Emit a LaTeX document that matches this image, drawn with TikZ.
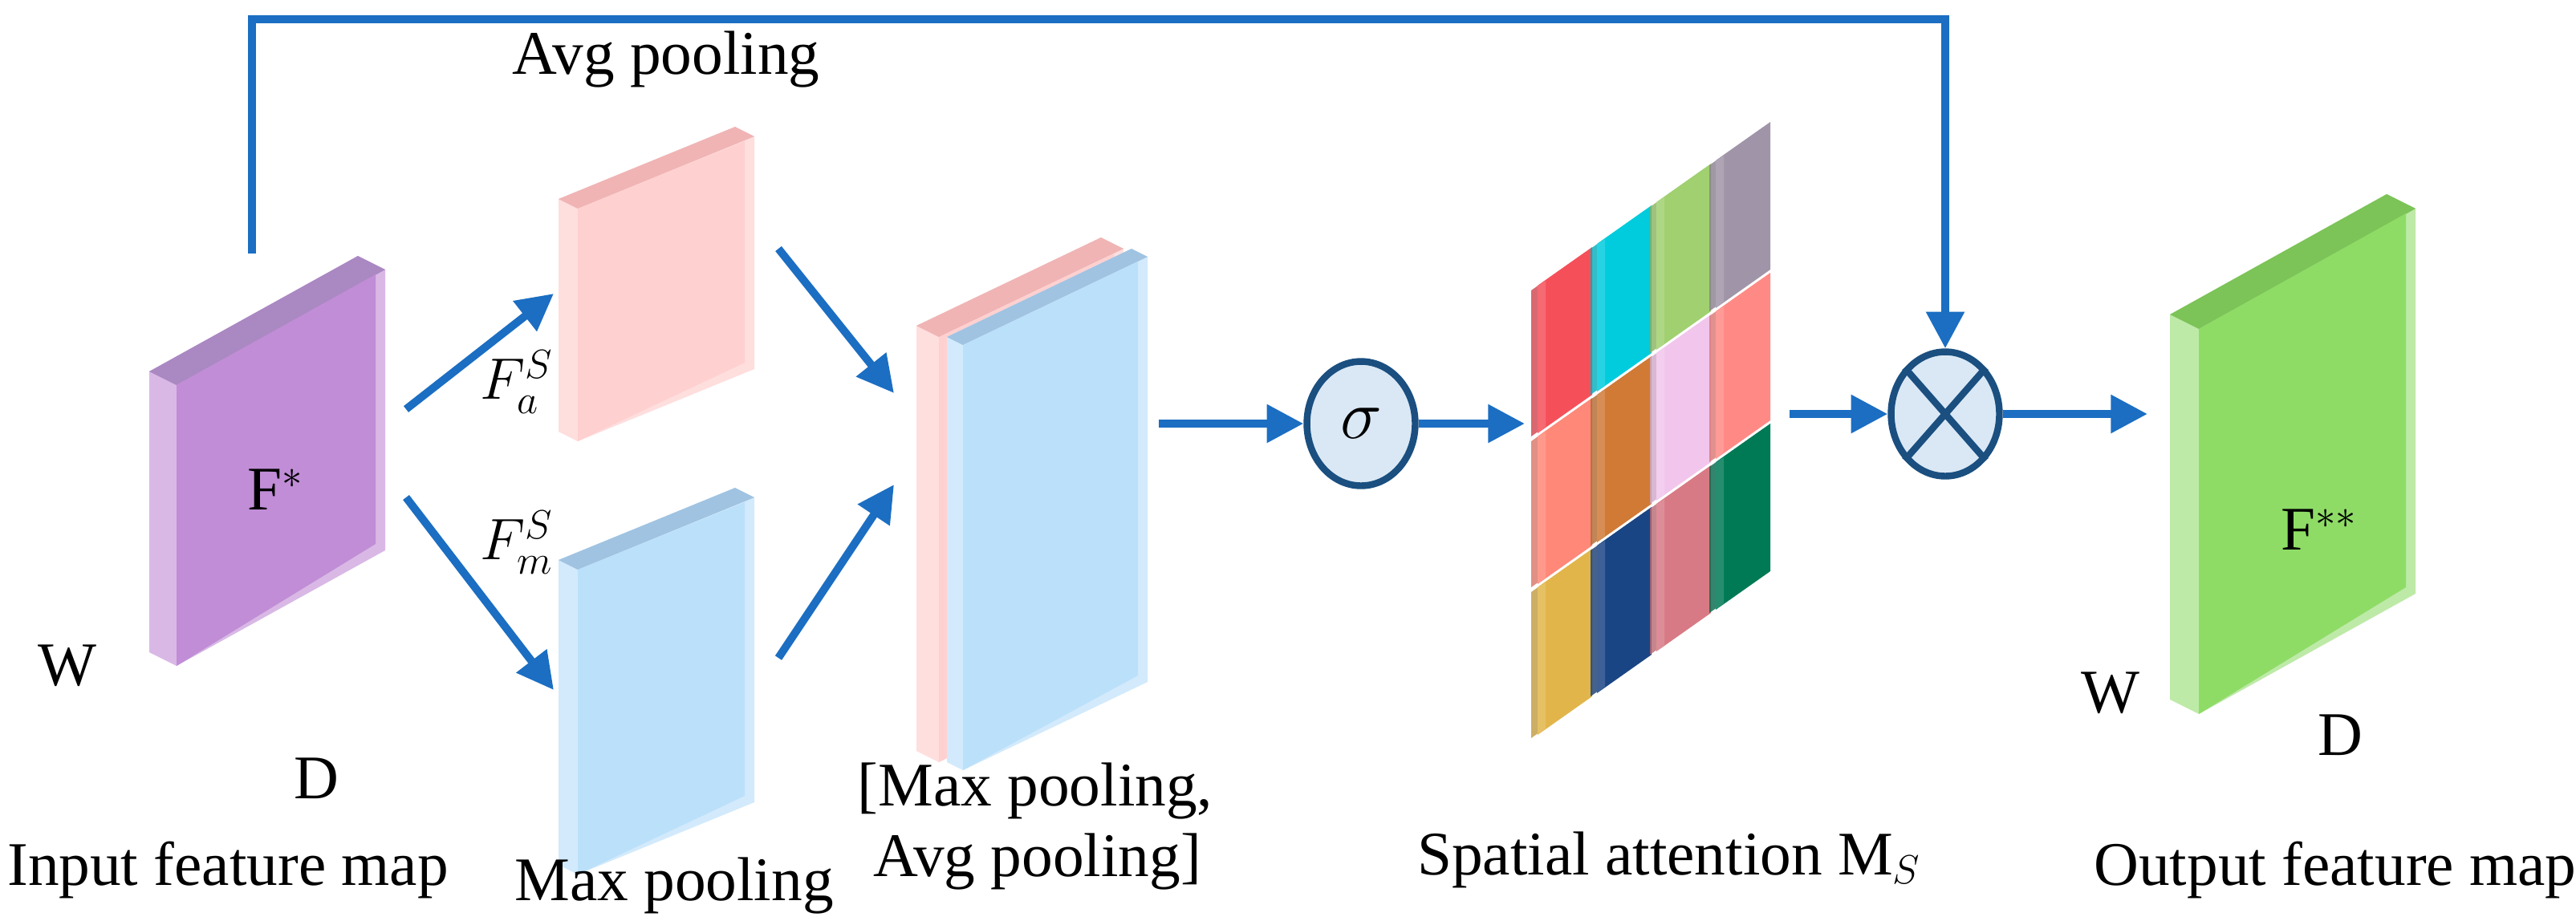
\documentclass[tikz,border=0pt]{standalone}
\usepackage{fontspec}
\setmainfont{Liberation Serif}
\usetikzlibrary{arrows.meta,shapes.geometric}
\definecolor{arr}{HTML}{1B6EC2}
\definecolor{opd}{HTML}{1A4F80}
\definecolor{opf}{HTML}{DAE8F5}
\definecolor{pF}{HTML}{C08DD6}\definecolor{pL}{HTML}{D9B8E6}\definecolor{pT}{HTML}{AA88C2}
\definecolor{rF}{HTML}{FFD0D0}\definecolor{rL}{HTML}{FFDEDE}\definecolor{rT}{HTML}{F0B4B4}
\definecolor{bF}{HTML}{BBE0FA}\definecolor{bL}{HTML}{D2EAFC}\definecolor{bT}{HTML}{A0C3E1}
\definecolor{gF}{HTML}{8EDC66}\definecolor{gL}{HTML}{BEEAA8}\definecolor{gT}{HTML}{7CC358}
\definecolor{t1}{HTML}{F5505A}\definecolor{t2}{HTML}{00CCDD}\definecolor{t3}{HTML}{A0D070}\definecolor{t4}{HTML}{A095A8}
\definecolor{t5}{HTML}{FF8878}\definecolor{t6}{HTML}{D07A35}\definecolor{t7}{HTML}{F2C6EC}\definecolor{t8}{HTML}{FF8A85}
\definecolor{t9}{HTML}{E2B54A}\definecolor{t10}{HTML}{1A4585}\definecolor{t11}{HTML}{D87A85}\definecolor{t12}{HTML}{007A55}
\tikzset{
  flow/.style={draw=arr,line width=2.8pt,-{Triangle[length=13pt,width=13pt]}},
  lbl/.style={font=\fontsize{22}{25}\selectfont,inner sep=0pt},
  op/.style={draw=opd,fill=opf,line width=2.4pt,ellipse,minimum width=1.35cm,minimum height=1.55cm,inner sep=0pt},
}
% slab: x1 x2 ytop h rise depth front light top
\newcommand\myslab[9]{%
  \fill[#8] (#1-#6,#3-#6*0.5) -- (#2-#6,#3-#5-#6*0.5) -- (#2,#3-#5) -- (#2,#3-#5+#4) -- (#1,#3+#4) -- (#1-#6,#3+#4-#6*0.5) -- cycle;
  \fill[#9] (#1-#6,#3-#6*0.5) -- (#2-#6,#3-#5-#6*0.5) -- (#2,#3-#5) -- (#1,#3) -- cycle;
  \fill[#7] (#1,#3) -- (#2-6,#3-#5+3) -- (#2-6,#3-#5+#4-4) -- (#1,#3+#4) -- cycle;
}
\newcommand\mytile[3]{%
  \fill[#3!85!black,opacity=0.8] (#1-4,#2+3) -- (#1+30,#2-21) -- (#1+30,#2+70) -- (#1-4,#2+94) -- cycle;
  \fill[#3] (#1,#2) -- (#1+34,#2-24) -- (#1+34,#2+68) -- (#1,#2+92) -- cycle;
  \fill[white,opacity=0.15] (#1,#2) -- (#1+5,#2-3) -- (#1+5,#2+88) -- (#1,#2+92) -- cycle;
}
\begin{document}
\begin{tikzpicture}[x=0.02cm,y=-0.02cm]
\useasboundingbox (0,0) rectangle (1605,573.5);
% slabs
\myslab{110}{240}{240}{175}{72}{17}{pF}{pL}{pT}
\myslab{360}{470}{130}{145}{45}{12}{rF}{rL}{rT}
\myslab{360}{470}{355}{190}{45}{12}{bF}{bL}{bT}
\myslab{585}{700}{210}{265}{55}{14}{rF}{rL}{rT}
\myslab{600}{715}{215}{265}{55}{10}{bF}{bL}{bT}
\myslab{1370}{1505}{205}{240}{75}{18}{gF}{gL}{gT}
% grid
\mytile{958}{178}{t1}
\mytile{995}{152}{t2}
\mytile{1032}{126}{t3}
\mytile{1069}{100}{t4}
\mytile{958}{272}{t5}
\mytile{995}{246}{t6}
\mytile{1032}{220}{t7}
\mytile{1069}{194}{t8}
\mytile{958}{366}{t9}
\mytile{995}{340}{t10}
\mytile{1032}{314}{t11}
\mytile{1069}{288}{t12}
% operators
\node[op] (sig) at (848,264) {\fontsize{24}{26}\selectfont$\sigma$};
\node[op] (mul) at (1212,258) {};
\draw[opd,line width=2.4pt] (mul.north west) -- (mul.south east) (mul.north east) -- (mul.south west);
% labels
\node[lbl] (fin) at (172,305) {F$^{*}$};
\node[lbl] (w1) at (42,415) {W};
\node[lbl] (d1) at (197,485) {D};
\node[lbl] (tin) at (142,542) {Input feature map};
\node[lbl] (fa) at (322,238) {$F_a^S$};
\node[lbl] (fm) at (322,338) {$F_m^S$};
\node[lbl] (tavg) at (415,37) {Avg pooling};
\node[lbl] (tmax) at (420,552) {Max pooling};
\node[lbl,align=left] (tcat) at (645,515) {[Max pooling,\\ \ Avg pooling]};
\node[lbl] (tsp) at (1040,536) {Spatial attention M$_{S}$};
\node[lbl] (fout) at (1445,330) {F$^{**}$};
\node[lbl] (w2) at (1315,432) {W};
\node[lbl] (d2) at (1458,458) {D};
\node[lbl] (tout) at (1455,542) {Output feature map};
% connectors
\coordinate (a1s) at (253,255); \coordinate (a1e) at (345,183);
\coordinate (a2s) at (253,310); \coordinate (a2e) at (345,430);
\coordinate (a3s) at (485,155); \coordinate (a3e) at (557,245);
\coordinate (a4s) at (485,410); \coordinate (a4e) at (557,302);
\coordinate (a5s) at (722,264); \coordinate (g1) at (950,264);
\coordinate (g2) at (1115,258); \coordinate (o1) at (1338,258);
\coordinate (sk) at (157,158);
\draw[flow] (a1s) -- (a1e);
\draw[flow] (a2s) -- (a2e);
\draw[flow] (a3s) -- (a3e);
\draw[flow] (a4s) -- (a4e);
\draw[flow] (a5s) -- (sig);
\draw[flow] (sig) -- (g1);
\draw[flow] (g2) -- (mul.west);
\draw[flow] (mul.east) -- (o1);
\draw[flow] (sk) |- (1212,12) -- (mul.north);
\end{tikzpicture}
\end{document}
